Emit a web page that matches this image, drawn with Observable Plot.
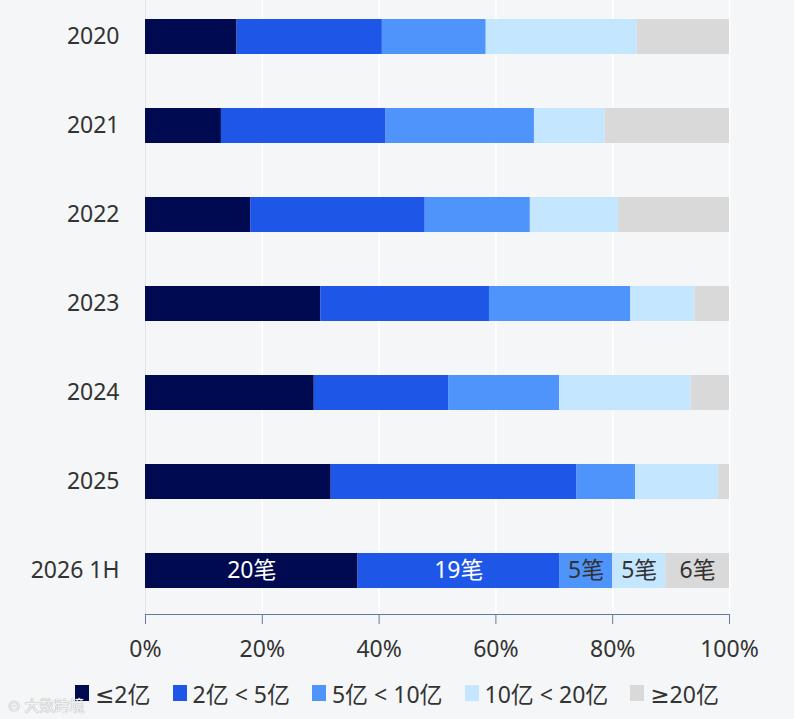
<!DOCTYPE html>
<html>
<head>
<meta charset="utf-8">
<script src="https://cdn.jsdelivr.net/npm/d3@7"></script>
<script src="https://cdn.jsdelivr.net/npm/@observablehq/plot@0.6"></script>
<style>
  html, body { margin:0; padding:0; background:#f5f6f7; }
  body { width:794px; height:719px; position:relative; overflow:hidden;
         font-family:"Noto Sans","DejaVu Sans","Noto Sans CJK SC",sans-serif; color:#333; }
  #legend { position:absolute; left:0; top:670px; width:794px; height:46px;
            display:flex; justify-content:center; align-items:center; gap:22px; font-size:23px; color:#333; }
  .item { display:flex; align-items:center; gap:6px; }
  .sw { width:14px; height:16px; display:inline-block; }
  #wm { position:absolute; left:8px; top:694px; font-size:15px; color:rgba(255,255,255,0.9);
        text-shadow:0 0 1px #aaa, 0 0 1px #aaa; }
</style>
</head>
<body>
<div id="chart"></div>
<div id="legend"></div>
<div id="wm">⊙ 大数跨境</div>
<script>
const years = ["2020","2021","2022","2023","2024","2025","2026 1H"];
const categories = ["≤2亿","2亿 < 5亿","5亿 < 10亿","10亿 < 20亿","≥20亿"];
const colors = ["#000a50","#1e56e8","#4f94fb","#c4e6ff","#d9d9d9"];
// shares (%) per category, per year
const le2     = [15.7, 13.0, 18.0, 30.0, 28.9, 31.8, 36.4];
const c2to5   = [24.9, 28.2, 29.9, 28.9, 23.0, 42.1, 34.5];
const c5to10  = [17.8, 25.4, 18.0, 24.2, 19.0, 10.0,  9.1];
const c10to20 = [25.9, 12.1, 15.1, 11.0, 22.5, 14.2,  9.1];
const ge20    = [15.8, 21.3, 19.0,  5.9,  6.6,  1.9, 10.9];
// deal counts shown on the 2026 1H bar
const labels2026 = ["20笔","19笔","5笔","5笔","6笔"];
const xTicks = [0, 0.2, 0.4, 0.6, 0.8, 1];

const series = [le2, c2to5, c5to10, c10to20, ge20];
const rows = [];
years.forEach((y, i) => categories.forEach((c, j) => rows.push({year: y, cat: c, value: series[j][i]})));
const rows2026 = rows.filter(d => d.year === "2026 1H").map((d, j) => ({...d, label: labels2026[j], light: j >= 2}));

const font = '"Noto Sans","DejaVu Sans","Noto Sans CJK SC",sans-serif';
const stackOpts = (extra) => Plot.stackX({x: "value", y: "year", z: "cat", order: categories, offset: "normalize", ...extra});

const chart = Plot.plot({
  width: 794, height: 668,
  marginLeft: 145, marginRight: 65, marginTop: 0, marginBottom: 54,
  style: {background: "transparent", fontFamily: font, fontSize: "23px", color: "#333"},
  x: {domain: [0, 1], ticks: xTicks, tickFormat: d3.format(".0%")},
  y: {domain: years, range: [18, 588], paddingInner: 0.607, paddingOuter: 0},
  color: {domain: categories, range: colors},
  marks: [
    Plot.gridX(xTicks, {stroke: "#ffffff", strokeOpacity: 1, strokeWidth: 1.5}),
    Plot.ruleX([0], {stroke: "#e2e3e5"}),
    Plot.barX(rows, stackOpts({fill: "cat"})),
    Plot.text(rows2026, stackOpts({text: d => d.light ? "" : d.label, fill: "white", fontSize: 23})),
    Plot.text(rows2026, stackOpts({text: d => d.light ? d.label : "", fill: "#333", fontSize: 23})),
    Plot.frame({anchor: "bottom", stroke: "#67789a", strokeWidth: 1.2}),
    Plot.axisX({ticks: xTicks, tickFormat: d3.format(".0%"), tickSize: 10, tickPadding: 16, stroke: "#67789a", fill: "#333", fontSize: 23, label: null}),
    Plot.axisY({tickSize: 0, tickPadding: 26, fill: "#333", fontSize: 23, label: null})
  ]
});
document.getElementById("chart").appendChild(chart);

const legend = document.getElementById("legend");
categories.forEach((c, i) => {
  const it = document.createElement("div");
  it.className = "item";
  it.innerHTML = `<span class="sw" style="background:${colors[i]}"></span><span>${c}</span>`;
  legend.appendChild(it);
});
</script>
</body>
</html>
